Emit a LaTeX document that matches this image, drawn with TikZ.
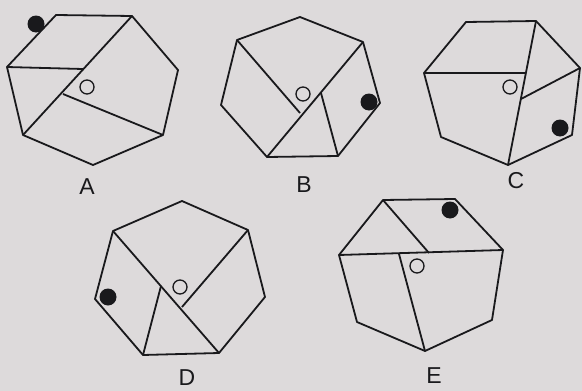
\documentclass[tikz,border=0pt]{standalone}
\usepackage{fontspec}
\setsansfont{Liberation Sans}
\definecolor{paper}{RGB}{221,218,219}
\definecolor{ink}{RGB}{25,25,28}

\begin{document}
\begin{tikzpicture}[x=1pt, y=-1pt, line join=round,
    edge/.style={draw=ink, line width=1.8pt},
    hollow/.style={draw=ink, line width=1.3pt, fill=paper},
    dot/.style={fill=ink},
    letter/.style={font=\sffamily\fontsize{23}{23}\selectfont, text=ink}]
  % photo background (fixes the 582x391 frame)
  \fill[paper] (0,0) rectangle (582,391);
  \useasboundingbox (0,0) rectangle (582,391);

  % figure A
  \draw[edge] (56,15) -- (132,16) -- (178,70) -- (163,135) -- (93,165)
    -- (23,135) -- (7,67) -- cycle;
  \draw[edge] (132,16) -- (23,135);
  \draw[edge] (7,67) -- (83,69);
  \draw[edge] (63,94) -- (163,135);
  \draw[hollow] (87,87) circle (7);
  \fill[dot] (36,24) circle (8.5);
  \node[letter] (labA) at (87,187) {A};

  % figure B
  \draw[edge] (300,17) -- (363,42) -- (380,103) -- (338,156) -- (267,157)
    -- (221,105) -- (237,40) -- cycle;
  \draw[edge] (363,42) -- (267,157);
  \draw[edge] (237,40) -- (300,113);
  \draw[edge] (321,93) -- (338,156);
  \draw[hollow] (303,94) circle (7);
  \fill[dot] (369,102) circle (8.5);
  \node[letter] (labB) at (304,185) {B};

  % figure C
  \draw[edge] (466,22) -- (536,21) -- (580,68) -- (572,135) -- (508,165)
    -- (441,137) -- (424,73) -- cycle;
  \draw[edge] (536,21) -- (508,165);
  \draw[edge] (424,73) -- (526,73);
  \draw[edge] (580,68) -- (521,99);
  \draw[hollow] (510,87) circle (7);
  \fill[dot] (560,128) circle (8.5);
  \node[letter] (labC) at (516,181) {C};

  % figure D
  \draw[edge] (182,201) -- (248,230) -- (265,297) -- (219,353) -- (143,355)
    -- (95,299) -- (113,231) -- cycle;
  \draw[edge] (113,231) -- (219,353);
  \draw[edge] (248,230) -- (182,307);
  \draw[edge] (161,286) -- (143,355);
  \draw[hollow] (180,287) circle (7);
  \fill[dot] (108,297) circle (8.5);
  \node[letter] (labD) at (187,378) {D};

  % figure E
  \draw[edge] (383,200) -- (455,199) -- (503,250) -- (492,320) -- (425,351)
    -- (357,322) -- (339,255) -- cycle;
  \draw[edge] (339,255) -- (503,250);
  \draw[edge] (383,200) -- (429,253);
  \draw[edge] (399,254) -- (425,351);
  \draw[hollow] (417,266) circle (7);
  \fill[dot] (450,210) circle (8.5);
  \node[letter] (labE) at (434,376) {E};
\end{tikzpicture}
\end{document}
